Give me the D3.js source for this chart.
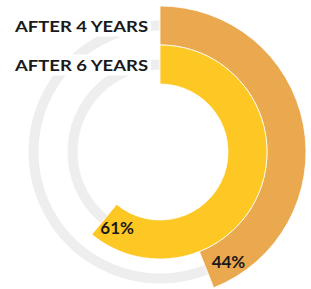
<!DOCTYPE html>
<html>
<head>
<meta charset="utf-8">
<script src="https://cdn.jsdelivr.net/npm/d3@7"></script>
<style>
  body { margin: 0; background: #fff; }
  text { font-family: Lato, "Open Sans", sans-serif; font-weight: 700; fill: #1a1a1a; }
</style>
</head>
<body>
<div id="chartDiv"></div>
<script>
// data
var labels = ["AFTER 4 YEARS", "AFTER 6 YEARS"];
var values = [44, 61];
var colors = ["#EAA84F", "#FDC823"];

var swidth = 311, sheight = 289;
var cx = 160, cy = 152;

var svg = d3.select("#chartDiv")
    .append("svg")
    .attr("width", swidth)
    .attr("height", sheight);

var g = svg.append("g")
    .attr("transform", "translate(" + cx + "," + cy + ")");

var angle = d3.scaleLinear().domain([0, 100]).range([0, 2 * Math.PI]);

// inner radius of each ring (last label is innermost)
var ring = d3.scaleBand().domain(labels.slice().reverse()).range([68, 146]);
var bw = ring.bandwidth();
function mid(d) { return ring(d) + bw / 2; }

// gray tracks
g.selectAll(".track")
    .data(labels)
    .enter().append("path")
    .attr("class", "track")
    .attr("fill", "#EEEEEE")
    .attr("d", function(d) {
        return d3.arc()({innerRadius: mid(d) - 5, outerRadius: mid(d) + 5, startAngle: 0, endAngle: 2 * Math.PI});
    });

// bars
g.selectAll(".bar")
    .data(values)
    .enter().append("path")
    .attr("class", "bar")
    .attr("fill", function(d, i) { return colors[i]; })
    .attr("stroke", "#fff")
    .attr("stroke-width", 0.8)
    .attr("d", function(d, i) {
        return d3.arc()({innerRadius: ring(labels[i]), outerRadius: ring(labels[i]) + bw, startAngle: 0, endAngle: angle(d)});
    });

// value labels near arc ends
g.selectAll(".val")
    .data(values)
    .enter().append("text")
    .attr("class", "val")
    .attr("text-anchor", "middle")
    .attr("dy", "0.36em")
    .style("font-size", "17px")
    .attr("transform", function(d, i) {
        var r = mid(labels[i]) + (i == 0 ? 3 : 0);
        var a = angle(d) - 0.18;
        return "translate(" + (r * Math.sin(a)) + "," + (-r * Math.cos(a)) + ")";
    })
    .text(function(d) { return d + "%"; });

// category labels with white backing, left of the start line
var lab = svg.selectAll(".lab")
    .data(labels)
    .enter().append("g")
    .attr("class", "lab")
    .attr("transform", function(d) {
        return "translate(0," + (cy - mid(d) + 1) + ")";
    });

lab.append("rect")
    .attr("x", 10)
    .attr("y", -11)
    .attr("width", 141)
    .attr("height", 21)
    .attr("fill", "#fff");

lab.append("text")
    .attr("x", 148)
    .attr("dy", "0.36em")
    .attr("text-anchor", "end")
    .style("font-size", "15px")
    .attr("textLength", 133)
    .attr("lengthAdjust", "spacingAndGlyphs")
    .text(function(d) { return d; });
</script>
</body>
</html>
